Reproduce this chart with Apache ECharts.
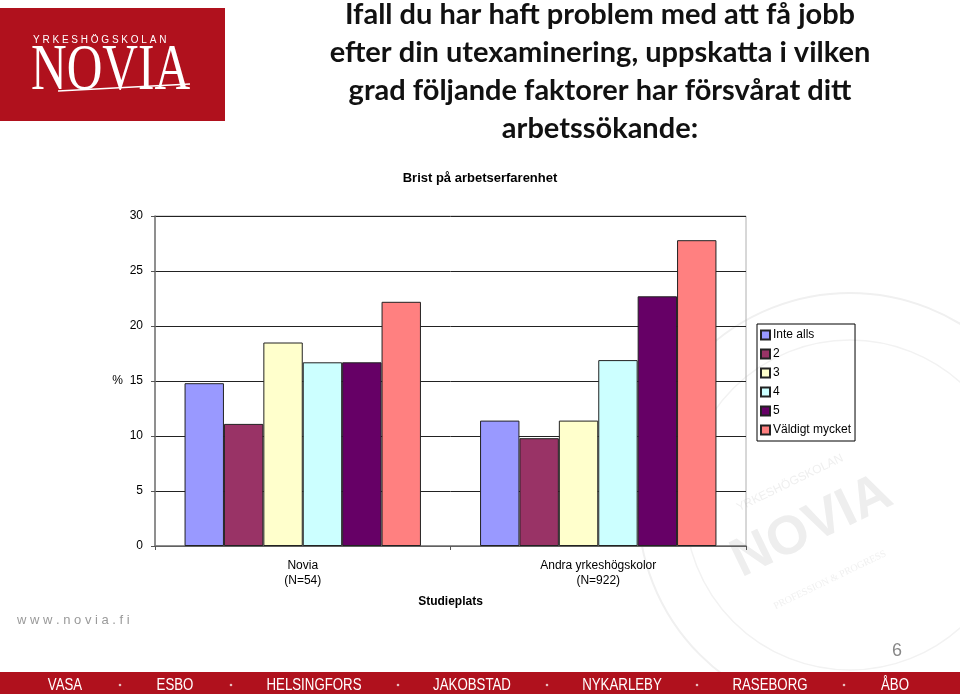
<!DOCTYPE html>
<html>
<head>
<meta charset="utf-8">
<script src="https://cdn.jsdelivr.net/npm/echarts@6/dist/echarts.min.js"></script>
<style>
html,body{margin:0;padding:0;background:#fff;}
#c{width:960px;height:694px;}
</style>
</head>
<body>
<div id="c"></div>
<script>
// ---- data ----
var categories = ['Novia\n(N=54)', 'Andra yrkeshögskolor\n(N=922)'];
var seriesNames = ['Inte alls', '2', '3', '4', '5', 'Väldigt mycket'];
var inteAlls = [14.8, 11.4];
var val2 = [11.1, 9.8];
var val3 = [18.5, 11.4];
var val4 = [16.7, 16.9];
var val5 = [16.7, 22.7];
var valdigtMycket = [22.2, 27.8];
var yTicks = [0, 5, 10, 15, 20, 25, 30];
var cities = ['VASA', 'ESBO', 'HELSINGFORS', 'JAKOBSTAD', 'NYKARLEBY', 'RASEBORG', 'ÅBO'];
var titleLines = ['Ifall du har haft problem med att få jobb', 'efter din utexaminering, uppskatta i vilken', 'grad följande faktorer har försvårat ditt', 'arbetssökande:'];

var seriesValues = [inteAlls, val2, val3, val4, val5, valdigtMycket];
var colors = ['#9999FF', '#993366', '#FFFFCC', '#CCFFFF', '#660066', '#FF8080'];
var red = '#B0111D';
var font = 'Liberation Sans, Arial, sans-serif';

var chart = echarts.init(document.getElementById('c'));

var graphics = [];
// watermark seal (very faint)
graphics.push({type:'circle', shape:{cx:850, cy:505, r:212}, style:{fill:'none', stroke:'#f0f0f0', lineWidth:2}, z:-10, silent:true});
graphics.push({type:'circle', shape:{cx:850, cy:505, r:165}, style:{fill:'none', stroke:'#f2f2f2', lineWidth:1.5}, z:-10, silent:true});
graphics.push({type:'text', x:812, y:527, rotation:0.45, style:{text:'NOVIA', fill:'#eeeeee', font:'bold 54px Liberation Sans, Arial', textAlign:'center', textVerticalAlign:'middle'}, z:-10, silent:true});
graphics.push({type:'text', x:790, y:483, rotation:0.45, style:{text:'YRKESHÖGSKOLAN', fill:'#efefef', font:'12px Liberation Sans, Arial', textAlign:'center', textVerticalAlign:'middle'}, z:-10, silent:true});
graphics.push({type:'text', x:830, y:580, rotation:0.45, style:{text:'PROFESSION & PROGRESS', fill:'#f0f0f0', font:'10px Liberation Serif, serif', textAlign:'center', textVerticalAlign:'middle'}, z:-10, silent:true});

// logo
graphics.push({type:'rect', shape:{x:0, y:8, width:225, height:113}, style:{fill:red}, z:1});
graphics.push({type:'text', x:33, y:40, style:{text:'Y R K E S H Ö G S K O L A N', fill:'#fff', font:'10px Liberation Sans, Arial', textVerticalAlign:'middle'}, z:2});
graphics.push({type:'text', x:31, y:72, scaleX:0.95, scaleY:1.25, style:{text:'NOVIA', fill:'#fff', font:'52px Liberation Serif, serif', textVerticalAlign:'middle'}, z:2});
graphics.push({type:'line', shape:{x1:58, y1:91, x2:190, y2:84}, style:{stroke:'#fff', lineWidth:1.5}, z:2});

// main title
for (var i = 0; i < titleLines.length; i++) {
  graphics.push({type:'text', x:600, y:15 + i * 38, style:{text:titleLines[i], fill:'#111', font:'bold 29px Lato, Noto Sans, sans-serif', textAlign:'center', textVerticalAlign:'middle'}, z:2});
}

// footer
graphics.push({type:'rect', shape:{x:0, y:672, width:960, height:22}, style:{fill:red}, z:1});
var cityX = [65, 175, 314, 472, 622, 770, 895];
var dotX = [120, 231, 398, 547, 697, 844];
for (var j = 0; j < cities.length; j++) {
  graphics.push({type:'text', x:cityX[j], y:685, scaleX:0.78, style:{text:cities[j], fill:'#fff', font:'17px Liberation Sans, Arial', textAlign:'center', textVerticalAlign:'middle'}, z:2});
}
for (var k = 0; k < dotX.length; k++) {
  graphics.push({type:'circle', shape:{cx:dotX[k], cy:685, r:1.3}, style:{fill:'#e8c0c0'}, z:3});
}
graphics.push({type:'text', x:17, y:620, style:{text:'w w w . n o v i a . f i', fill:'#9a9a9a', font:'13px Liberation Sans, Arial', textVerticalAlign:'middle'}, z:2});
graphics.push({type:'text', x:897, y:651, style:{text:'6', fill:'#888', font:'18px Liberation Sans, Arial', textAlign:'center', textVerticalAlign:'middle'}, z:2});

var series = seriesNames.map(function (name, idx) {
  return {
    name: name,
    type: 'bar',
    data: seriesValues[idx],
    barGap: '0%',
    barCategoryGap: '20%',
    itemStyle: {color: colors[idx], borderColor: '#222', borderWidth: 1},
    emphasis: {disabled: true},
    animation: false
  };
});

chart.setOption({
  animation: false,
  title: {
    text: 'Brist på arbetserfarenhet',
    left: 'center',
    top: 167,
    textStyle: {fontFamily: font, fontSize: 13, fontWeight: 'bold', color: '#000'}
  },
  legend: {
    orient: 'vertical',
    left: 757,
    top: 324,
    data: seriesNames,
    icon: 'rect',
    itemWidth: 9,
    itemHeight: 9,
    itemGap: 7,
    padding: [5, 4, 5, 3],
    borderColor: '#000',
    borderWidth: 1,
    backgroundColor: 'rgba(255,255,255,0)',
    textStyle: {fontFamily: font, fontSize: 12, color: '#000', padding: [0, 0, 0, -2]},
    selectedMode: false
  },
  grid: {
    left: 155, right: 214, top: 216, bottom: 148,
    show: true, borderColor: '#b0b0b0', borderWidth: 1, backgroundColor: 'transparent'
  },
  xAxis: {
    type: 'category',
    data: categories,
    name: 'Studieplats',
    nameLocation: 'middle',
    nameGap: 50,
    nameTextStyle: {fontFamily: font, fontSize: 12, fontWeight: 'bold', color: '#000'},
    axisLine: {lineStyle: {color: '#777', width: 1.5}},
    axisTick: {show: true, length: 4, lineStyle: {color: '#555'}},
    axisLabel: {fontFamily: font, fontSize: 12, color: '#000', lineHeight: 15, margin: 12}
  },
  yAxis: {
    type: 'value',
    min: yTicks[0],
    max: yTicks[yTicks.length - 1],
    interval: yTicks[1] - yTicks[0],
    name: '%',
    nameLocation: 'middle',
    nameRotate: 0,
    nameGap: 32,
    nameTextStyle: {fontFamily: font, fontSize: 12, color: '#000'},
    axisLine: {show: true, lineStyle: {color: '#777', width: 1.5}},
    axisTick: {show: true, length: 4, lineStyle: {color: '#555'}},
    axisLabel: {fontFamily: font, fontSize: 12, color: '#000', margin: 12},
    splitLine: {lineStyle: {color: '#222', width: 1}}
  },
  graphic: graphics,
  series: series
});
</script>
</body>
</html>
